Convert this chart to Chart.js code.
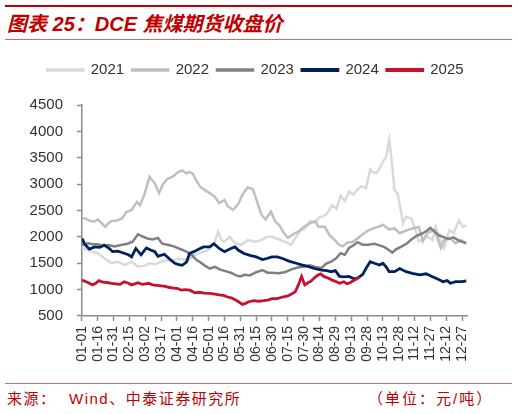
<!DOCTYPE html>
<html lang="zh">
<head>
<meta charset="utf-8">
<script src="https://cdn.jsdelivr.net/npm/chart.js@4.4.1/dist/chart.umd.min.js"></script>
<style>
  html, body { margin: 0; padding: 0; background: #fff; }
  body { width: 518px; height: 414px; position: relative; overflow: hidden;
    font-family: 'Liberation Sans', Arial, 'Noto Sans CJK SC', sans-serif; }
  .bar-top { position: absolute; left: 5px; top: 5px; width: 507px; height: 2px; background: #C00000; }
  .rule { position: absolute; left: 5px; width: 507px; height: 1px; background: #D46A6A; }
  .title { position: absolute; left: 7px; top: 14px; font: italic bold 20px/20px 'Liberation Sans', 'Noto Sans CJK SC', sans-serif;
    color: #C00000; white-space: nowrap; }
  .foot { position: absolute; top: 391px; font: 15px/15px 'Liberation Sans', 'Noto Sans CJK SC', sans-serif;
    color: #C00000; white-space: nowrap; letter-spacing: 1.5px; }
  #wrap { position: absolute; left: 0; top: 42px; width: 518px; height: 336px; }
</style>
</head>
<body>
<div class="bar-top"></div>
<div class="title">图表 25：DCE 焦煤期货收盘价</div>
<div class="rule" style="top:39px"></div>
<div id="wrap"><canvas id="chart"></canvas></div>
<div class="rule" style="top:383px"></div>
<div class="foot" style="left:7px">来源：</div>
<div class="foot" style="left:69px">Wind、中泰证券研究所</div>
<div class="foot" style="left:368px; letter-spacing:2px">（单位：元/吨）</div>

<script>
// подписи оси X (каждые 15 дней)
const tickLabels = [
  '01-01', '01-16', '01-31', '02-15', '03-02', '03-17', '04-01', '04-16', '05-01',
  '05-16', '05-31', '06-15', '06-30', '07-15', '07-30', '08-14', '08-29', '09-13',
  '09-28', '10-13', '10-28', '11-12', '11-27', '12-12', '12-27',
];
const yTicks = [500, 1000, 1500, 2000, 2500, 3000, 3500, 4000, 4500];
const years = ['2021', '2022', '2023', '2024', '2025'];
const colors = ['#D9D9D9', '#BFBFBF', '#808080', '#002060', '#C8102E'];

// [день года, цена]
const line2021 = [
  [0, 1800], [5, 1750], [9, 1720], [15, 1690], [21, 1600], [25, 1540], [28, 1500], [34, 1530],
  [40, 1470], [44, 1500], [47, 1530], [53, 1440], [59, 1450], [64, 1500], [69, 1480], [75, 1530],
  [81, 1560], [86, 1540], [91, 1590], [96, 1570], [101, 1560], [107, 1660], [113, 1700], [119, 1750],
  [125, 1860], [129, 2090], [132, 1940], [135, 1910], [140, 2000], [145, 1880], [151, 1850], [157, 1940],
  [164, 1910], [170, 1940], [175, 2000], [180, 2000], [184, 1970], [188, 1940], [193, 1900], [198, 1850],
  [203, 2000], [207, 2120], [211, 2150], [216, 2300], [221, 2270], [225, 2370], [230, 2400], [234, 2500],
  [237, 2600], [241, 2530], [245, 2780], [249, 2680], [253, 2860], [257, 2800], [261, 2900], [265, 2960],
  [269, 2920], [273, 3280], [276, 3220], [279, 3210], [282, 3300], [285, 3420], [288, 3520], [291, 3840],
  [293, 3500], [294, 3330], [296, 2890], [299, 2820], [302, 2500], [304, 2260], [307, 2380], [312, 2350],
  [315, 2190], [319, 1910], [324, 1970], [328, 2000], [332, 1940], [335, 2190], [339, 1940], [343, 1790],
  [348, 2130], [352, 2070], [357, 2310], [361, 2190], [364, 2220],
];
const line2022 = [
  [0, 2360], [4, 2340], [8, 2300], [12, 2290], [15, 2330], [19, 2250], [22, 2190], [25, 2260],
  [28, 2300], [33, 2310], [38, 2350], [42, 2470], [47, 2510], [52, 2660], [55, 2600], [59, 2790],
  [64, 3140], [69, 3010], [73, 2830], [77, 3010], [81, 3100], [86, 3140], [91, 3230], [95, 3260],
  [99, 3200], [102, 3230], [105, 3200], [108, 3080], [112, 2950], [116, 2890], [121, 2830], [126, 2760],
  [130, 2640], [135, 2700], [138, 2580], [143, 2510], [148, 2620], [152, 2800], [157, 2940], [162, 2900],
  [166, 2660], [170, 2420], [174, 2330], [179, 2480], [183, 2290], [187, 2220], [191, 2080], [195, 1980],
  [201, 2060], [205, 2100], [210, 2190], [216, 2255], [221, 2300], [224, 2190], [230, 2190], [235, 2020],
  [238, 1970], [243, 1860], [247, 1820], [252, 1900], [256, 1900], [261, 1970], [266, 2050], [271, 2120],
  [277, 2170], [282, 2200], [285, 2230], [291, 2140], [296, 2160], [301, 2070], [307, 2120], [313, 2160],
  [319, 2190], [323, 1920], [327, 2070], [334, 2130], [340, 1790], [343, 1940], [349, 1970], [354, 1880],
  [359, 1940], [364, 1880],
];
const line2023 = [
  [0, 1850], [6, 1880], [10, 1860], [15, 1860], [20, 1830], [25, 1845], [31, 1820], [37, 1845],
  [43, 1870], [48, 1910], [53, 2050], [56, 2020], [62, 1970], [67, 1950], [72, 1980], [76, 1870],
  [81, 1850], [87, 1820], [93, 1770], [99, 1720], [104, 1660], [108, 1570], [112, 1520], [116, 1460],
  [121, 1400], [126, 1430], [131, 1380], [136, 1350], [141, 1320], [146, 1270], [150, 1250], [154, 1280],
  [159, 1270], [165, 1330], [171, 1370], [176, 1320], [180, 1320], [186, 1310], [192, 1330], [198, 1380],
  [204, 1420], [211, 1440], [216, 1460], [221, 1430], [227, 1410], [231, 1490], [236, 1530], [241, 1600],
  [245, 1690], [249, 1660], [253, 1790], [258, 1850], [261, 1900], [266, 1850], [271, 1850], [277, 1870],
  [282, 1840], [286, 1810], [290, 1760], [294, 1700], [297, 1760], [303, 1820], [308, 1880], [312, 1950],
  [317, 2020], [322, 2060], [327, 2120], [330, 2170], [334, 2100], [338, 2030], [342, 2000], [347, 1960],
  [352, 1990], [357, 1930], [361, 1900], [364, 1880],
];
const line2024 = [
  [0, 1970], [3, 1850], [7, 1770], [12, 1810], [17, 1800], [21, 1845], [26, 1780], [29, 1720],
  [34, 1730], [40, 1690], [44, 1660], [47, 1620], [51, 1780], [56, 1660], [61, 1790], [65, 1750],
  [69, 1720], [72, 1630], [78, 1670], [83, 1580], [88, 1500], [91, 1480], [95, 1460], [99, 1520],
  [102, 1690], [106, 1720], [110, 1760], [115, 1810], [121, 1810], [125, 1870], [130, 1780], [135, 1720],
  [141, 1780], [145, 1810], [148, 1750], [153, 1690], [159, 1650], [165, 1620], [171, 1570], [175, 1590],
  [180, 1620], [185, 1620], [190, 1590], [196, 1540], [203, 1500], [208, 1470], [214, 1440], [220, 1400],
  [227, 1370], [232, 1360], [236, 1340], [240, 1360], [244, 1250], [248, 1240], [253, 1250], [258, 1200],
  [262, 1230], [266, 1290], [269, 1400], [273, 1530], [277, 1500], [282, 1466], [285, 1500], [288, 1434],
  [291, 1340], [296, 1340], [301, 1400], [307, 1340], [313, 1310], [320, 1280], [326, 1300], [332, 1245],
  [338, 1190], [342, 1150], [346, 1170], [349, 1120], [354, 1150], [360, 1150], [364, 1165],
];
const line2025 = [
  [0, 1180], [4, 1150], [7, 1120], [10, 1090], [13, 1120], [16, 1170], [20, 1140], [25, 1130],
  [28, 1120], [32, 1110], [36, 1100], [40, 1150], [44, 1120], [47, 1090], [50, 1110], [53, 1130],
  [57, 1100], [60, 1110], [63, 1120], [67, 1090], [71, 1080], [75, 1070], [79, 1060], [83, 1040],
  [87, 1030], [91, 1020], [94, 990], [98, 1000], [102, 990], [107, 940], [111, 950], [116, 935],
  [121, 930], [126, 915], [130, 900], [134, 890], [138, 860], [142, 840], [146, 800], [149, 760],
  [152, 720], [155, 740], [158, 770], [163, 790], [167, 780], [172, 790], [176, 800], [180, 830],
  [185, 830], [190, 860], [195, 880], [198, 910], [202, 960], [205, 1090], [208, 1250], [211, 1090],
  [214, 1130], [217, 1160], [220, 1220], [223, 1270], [226, 1300], [229, 1250], [233, 1220], [237, 1180],
  [241, 1150], [244, 1120], [248, 1150], [251, 1110], [254, 1130], [257, 1170], [260, 1200], [263, 1240],
];
const allLines = [line2021, line2022, line2023, line2024, line2025];

const axisColor = '#8C8C8C';
const textColor = '#333333';
Chart.defaults.font.family = "'Liberation Sans', Arial, sans-serif";

// Плагин: отступ под легендой и сдвиг легенды вправо
const legendSpacing = {
  id: 'legendSpacing',
  beforeInit(chart) {
    const fit = chart.legend.fit;
    chart.legend.fit = function () {
      fit.bind(chart.legend)();
      this.height += 17.5;
    };
  },
  afterLayout(chart) {
    chart.legend.left += 14;
    chart.legend.right += 14;
  },
};

const datasets = years.map((year, i) => ({
  label: year,
  data: allLines[i].map(([x, y]) => ({ x, y })),
  borderColor: colors[i],
  backgroundColor: colors[i],
  borderWidth: i >= 3 ? 2.8 : 2.5,
  pointRadius: 0,
  tension: 0,
  order: years.length - i, // 2025 рисуется поверх
}));

new Chart(document.getElementById('chart'), {
  type: 'line',
  data: { datasets },
  options: {
    responsive: true,
    maintainAspectRatio: false,
    animation: false,
    layout: { padding: { top: 12.5, left: 15.6, right: 50.7, bottom: 11.2 } },
    plugins: {
      legend: {
        position: 'top',
        labels: {
          boxWidth: 36,
          boxHeight: 1,
          padding: 8,
          color: textColor,
          font: { size: 15 },
          sort: (a, b) => a.datasetIndex - b.datasetIndex,
        },
      },
      tooltip: { enabled: false },
    },
    scales: {
      x: {
        type: 'linear',
        min: 0,
        max: 365,
        afterBuildTicks: (scale) => {
          scale.ticks = tickLabels.map((_, i) => ({ value: i * 15 }));
        },
        ticks: {
          autoSkip: false,
          minRotation: 90,
          maxRotation: 90,
          padding: 5,
          color: textColor,
          font: { size: 14 },
          callback: (value) => tickLabels[value / 15],
        },
        grid: { drawOnChartArea: false, drawTicks: true, tickLength: 5, tickColor: axisColor, tickWidth: 1.5 },
        border: { color: axisColor, width: 1.5 },
      },
      y: {
        min: yTicks[0],
        max: yTicks[yTicks.length - 1],
        afterBuildTicks: (scale) => {
          scale.ticks = yTicks.map((v) => ({ value: v }));
        },
        ticks: {
          padding: 14,
          color: textColor,
          font: { size: 15 },
          callback: (value) => String(value),
        },
        grid: { drawOnChartArea: false, drawTicks: true, tickLength: 5, tickColor: axisColor, tickWidth: 1.5 },
        border: { color: axisColor, width: 1.5 },
      },
    },
  },
  plugins: [legendSpacing],
});
</script>
</body>
</html>
